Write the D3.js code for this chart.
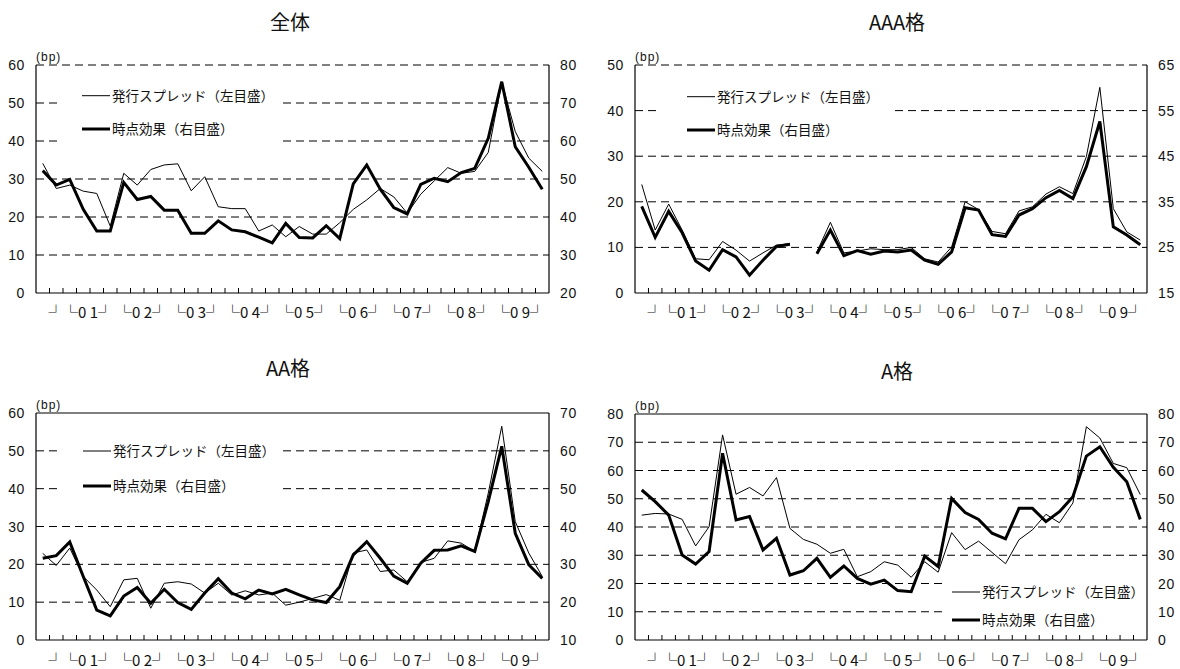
<!DOCTYPE html>
<html><head><meta charset="utf-8">
<script src="https://cdn.jsdelivr.net/npm/d3@7"></script>
<style>body{margin:0;background:#fff}</style>
</head><body><svg id="c" width="1180" height="669"></svg>
<script>
// ---- data ----
const quarters = ["00Q3","00Q4",
 "01Q1","01Q2","01Q3","01Q4","02Q1","02Q2","02Q3","02Q4","03Q1","03Q2","03Q3","03Q4",
 "04Q1","04Q2","04Q3","04Q4","05Q1","05Q2","05Q3","05Q4","06Q1","06Q2","06Q3","06Q4",
 "07Q1","07Q2","07Q3","07Q4","08Q1","08Q2","08Q3","08Q4","09Q1","09Q2","09Q3","09Q4"];
const yearKeys   = ["00","01","02","03","04","05","06","07","08","09"];
const yearLabels = ["┘","└0 1┘","└0 2┘","└0 3┘","└0 4┘","└0 5┘","└0 6┘","└0 7┘","└0 8┘","└0 9┘"];

const totalSpread = [34.1,27.5,28.4,26.8,26.2,17.6,31.5,28.4,32.5,33.7,34,26.9,30.6,22.7,22.2,22.2,16.3,17.9,14.8,17.5,15.5,15.5,18.5,22,24.5,27.5,25.3,21,26,29.5,33,31.5,32,37,55.5,42.5,35.5,32];
const totalEffect = [52.2,48.4,49.9,42,36.3,36.3,49.1,44.6,45.4,41.8,41.8,35.7,35.7,39,36.6,36.1,34.7,33.2,38.3,34.6,34.5,37.7,34.3,48.7,53.7,47.3,42.5,40.8,48.6,50.2,49.3,51.7,52.8,60.7,75.6,58.5,53.1,47.3];
const aaaSpread = [23.8,13.8,19.5,13.8,7.5,7.3,11.3,9.4,7,8.8,10.5,10.8,null,9,15.5,8.8,9.2,9.7,9.5,9.5,10,7.5,6.8,10.1,20,18.3,13.5,13,18,18.9,21.7,23.3,21.8,29.9,45.1,18.5,13.4,11.6];
const aaaEffect = [34,27.2,32.9,28.2,22,20,24.5,22.9,18.9,22.2,25.2,25.7,null,23.6,28.8,23.2,24.3,23.5,24.2,24,24.4,22.2,21.3,24,33.7,33.2,27.8,27.4,32.1,33.5,35.9,37.5,35.7,42.7,52.6,29.5,27.7,25.6];
const aaSpread = [22.9,19.7,24.3,16.8,13.2,8.8,15.9,16.3,8.4,15,15.4,14.8,12.4,15,11.9,13,11.9,12.4,9.2,10,11,12,10.5,23,23.8,18.1,18.5,15.4,20.5,21.6,26.2,25.6,23.4,38.8,56.5,31.3,23,16.8];
const aaEffect = [31.6,32.3,35.9,26.8,17.9,16.4,21.6,23.9,19.7,23.4,19.9,18.1,22.4,26.2,22.4,20.9,23.2,22.2,23.4,21.9,20.6,19.9,24.1,32.5,36,31.6,26.9,25,30.3,33.7,33.8,34.9,33.4,46.6,61.2,38.2,29.9,26.3];
const aSpread = [44.2,44.8,44.6,42.7,33.3,40.1,72.6,51.6,54,51,57.5,39.5,35.6,33.9,30.7,32.1,22.4,24.2,27.7,26.5,22.2,27.7,24,38,32,35,31,27,35.5,39,44.5,41.5,48.5,75.5,71.5,62.5,61,51.5];
const aEffect = [53.1,49,44.2,30.1,26.9,31.3,66.1,42.5,43.7,31.9,36,23,24.5,28.9,22.2,26.2,21.8,19.8,21.2,17.5,17.1,29.7,26,50.1,45.1,42.7,37.8,35.8,46.6,46.6,41.9,45.4,50.7,65.1,68.4,61.1,56,42.7];

const totalLeftTicks = [0,10,20,30,40,50,60], totalRightTicks = [20,30,40,50,60,70,80];
const aaaLeftTicks = [0,10,20,30,40,50], aaaRightTicks = [15,25,35,45,55,65];
const aaLeftTicks = [0,10,20,30,40,50,60], aaRightTicks = [10,20,30,40,50,60,70];
const aLeftTicks = [0,10,20,30,40,50,60,70,80], aRightTicks = [0,10,20,30,40,50,60,70,80];

const titles = ["全体","AAA格","AA格","A格"];
const legendNames = ["発行スプレッド（左目盛）","時点効果（右目盛）"];

// ---- layout ----
const panels = [
 {title:titles[0], spread:totalSpread, effect:totalEffect, lt:totalLeftTicks, rt:totalRightTicks,
  L:36, R:549, T:65, B:293, tx:290, ty:30, dashedTop:true, xly:318,
  lg:{x0:62,x1:283,y0:78,y1:152,lx:82,ly1:95.7,ly2:129}},
 {title:titles[1], spread:aaaSpread, effect:aaaEffect, lt:aaaLeftTicks, rt:aaaRightTicks,
  L:635, R:1147, T:65, B:293, tx:897, ty:30, dashedTop:true, xly:318,
  lg:{x0:660,x1:895,y0:78,y1:148,lx:687,ly1:96.7,ly2:130}},
 {title:titles[2], spread:aaSpread, effect:aaEffect, lt:aaLeftTicks, rt:aaRightTicks,
  L:36, R:549, T:413, B:640, tx:288, ty:376, dashedTop:false, xly:666,
  lg:{x0:62,x1:283,y0:435,y1:503,lx:83,ly1:451,ly2:486}},
 {title:titles[3], spread:aSpread, effect:aEffect, lt:aLeftTicks, rt:aRightTicks,
  L:635, R:1147, T:414, B:640, tx:897, ty:379, dashedTop:false, xly:666,
  lg:{x0:943,x1:1147,y0:570,y1:634,lx:952,ly1:592,ly2:620}}
];

const svg = d3.select("#c");
const numFont = "'Liberation Sans', Arial, sans-serif";
const jpFont = "'Noto Sans CJK JP', 'Noto Sans', sans-serif";

panels.forEach(p => {
  const g = svg.append("g");
  const x = d3.scaleBand().domain(quarters).range([p.L, p.R]).paddingInner(0).paddingOuter(0);
  const yl = d3.scaleLinear().domain(d3.extent(p.lt)).range([p.B, p.T]);
  const yr = d3.scaleLinear().domain(d3.extent(p.rt)).range([p.B, p.T]);
  const cx = q => x(q) + x.bandwidth()/2;

  // title
  g.append("text").attr("x", p.tx).attr("y", p.ty).attr("text-anchor","middle")
    .attr("font-family", jpFont).attr("font-size", 20).attr("fill","#111").text(p.title);

  // gridlines
  const gridTicks = p.lt.filter(v => v > p.lt[0] && (p.dashedTop || v < p.lt[p.lt.length-1]));
  g.selectAll(".grid").data(gridTicks).join("line")
    .attr("x1", p.L).attr("x2", p.R).attr("y1", d => yl(d)).attr("y2", d => yl(d))
    .attr("stroke","#000").attr("stroke-width",1).attr("stroke-dasharray","8,5");

  // legend box (white, covers grid)
  g.append("rect").attr("x", p.lg.x0).attr("y", p.lg.y0)
    .attr("width", p.lg.x1 - p.lg.x0).attr("height", p.lg.y1 - p.lg.y0).attr("fill","#fff");

  // axes lines
  const ax = g.append("g").attr("stroke","#000").attr("stroke-width",1.2);
  ax.append("line").attr("x1",p.L).attr("x2",p.L).attr("y1",p.T).attr("y2",p.B);
  ax.append("line").attr("x1",p.R).attr("x2",p.R).attr("y1",p.T).attr("y2",p.B);
  ax.append("line").attr("x1",p.L).attr("x2",p.R).attr("y1",p.B).attr("y2",p.B);
  if (!p.dashedTop) ax.append("line").attr("x1",p.L).attr("x2",p.R).attr("y1",p.T).attr("y2",p.T);

  // x tick marks at category boundaries
  g.selectAll(".xt").data(quarters.slice(1)).join("line")
    .attr("x1", d => x(d)).attr("x2", d => x(d)).attr("y1", p.B).attr("y2", p.B - 5)
    .attr("stroke","#000").attr("stroke-width",1);

  // y labels
  g.selectAll(".yl").data(p.lt).join("text")
    .attr("x", p.L - 11).attr("y", d => yl(d)).attr("dy","0.36em").attr("text-anchor","end")
    .attr("font-family", numFont).attr("font-size", 14).attr("letter-spacing", 0.6).attr("fill","#111").text(d => d);
  g.selectAll(".yr").data(p.rt).join("text")
    .attr("x", p.R + 11).attr("y", d => yr(d)).attr("dy","0.36em").attr("text-anchor","start")
    .attr("font-family", numFont).attr("font-size", 14).attr("letter-spacing", 0.6).attr("fill","#111").text(d => d);
  g.append("text").attr("x", p.L).attr("y", p.T - 4).attr("font-family", numFont)
    .attr("font-size", 12).attr("letter-spacing", 1).attr("fill","#111").text("(bp)");

  // year labels
  yearKeys.forEach((k, i) => {
    const qs = quarters.filter(q => q.startsWith(k));
    const x0 = x(qs[0]), x1 = x(qs[qs.length-1]) + x.bandwidth();
    const t = g.append("text").attr("y", p.xly).attr("font-family", jpFont)
      .attr("font-size", 15).attr("fill","#111").text(yearLabels[i]);
    if (i === 0) t.attr("x", x1 + 0.5).attr("text-anchor","end");
    else t.attr("x", (x0 + x1)/2 - 2).attr("text-anchor","middle");
  });

  // lines
  const lineL = d3.line().defined(d => d[1] != null).x(d => cx(d[0])).y(d => yl(d[1]));
  const lineR = d3.line().defined(d => d[1] != null).x(d => cx(d[0])).y(d => yr(d[1]));
  g.append("path").attr("d", lineL(quarters.map((q,i) => [q, p.spread[i]])))
    .attr("fill","none").attr("stroke","#000").attr("stroke-width",1).attr("stroke-linejoin","round");
  g.append("path").attr("d", lineR(quarters.map((q,i) => [q, p.effect[i]])))
    .attr("fill","none").attr("stroke","#000").attr("stroke-width",3).attr("stroke-linejoin","miter");

  // legend entries
  const lg = p.lg;
  g.append("line").attr("x1", lg.lx).attr("x2", lg.lx + 28).attr("y1", lg.ly1).attr("y2", lg.ly1)
    .attr("stroke","#000").attr("stroke-width",1);
  g.append("line").attr("x1", lg.lx).attr("x2", lg.lx + 28).attr("y1", lg.ly2).attr("y2", lg.ly2)
    .attr("stroke","#000").attr("stroke-width",3);
  g.append("text").attr("x", lg.lx + 30).attr("y", lg.ly1).attr("dy","0.36em")
    .attr("font-family", jpFont).attr("font-size", 13.5).attr("fill","#111").text(legendNames[0]);
  g.append("text").attr("x", lg.lx + 30).attr("y", lg.ly2).attr("dy","0.36em")
    .attr("font-family", jpFont).attr("font-size", 13.5).attr("fill","#111").text(legendNames[1]);
});
</script></body></html>
